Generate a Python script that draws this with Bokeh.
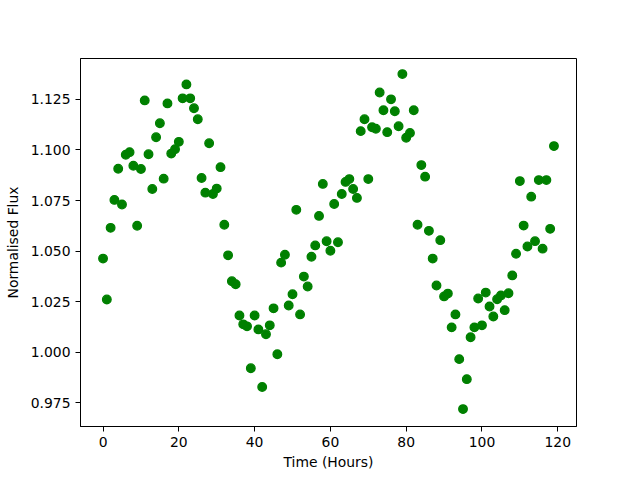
from bokeh.plotting import figure
from bokeh.models import Range1d, FixedTicker, NumeralTickFormatter, ColumnDataSource
from bokeh.embed import file_html
from bokeh.resources import INLINE

time_hours = list(range(120))
flux = [
    1.0463, 1.0261, 1.0615, 1.0753, 1.0907, 1.0730, 1.0976, 1.0989, 1.0922, 1.0625,
    1.0906, 1.1245, 1.0979, 1.0807, 1.1063, 1.1132, 1.0858, 1.1230, 1.0982, 1.1004,
    1.1040, 1.1255, 1.1324, 1.1255, 1.1206, 1.1152, 1.0861, 1.0789, 1.1033, 1.0782,
    1.0809, 1.0915, 1.0630, 1.0479, 1.0351, 1.0336, 1.0182, 1.0138, 1.0128, 0.9921,
    1.0182, 1.0113, 0.9828, 1.0089, 1.0133, 1.0217, 0.9990, 1.0443, 1.0482, 1.0231,
    1.0287, 1.0704, 1.0187, 1.0374, 1.0325, 1.0472, 1.0528, 1.0674, 1.0832, 1.0549,
    1.0502, 1.0733, 1.0544, 1.0782, 1.0842, 1.0856, 1.0807, 1.0763, 1.1093, 1.1152,
    1.0856, 1.1112, 1.1105, 1.1284, 1.1196, 1.1088, 1.1250, 1.1191, 1.1117, 1.1375,
    1.1060, 1.1084, 1.1196, 1.0630, 1.0925, 1.0868, 1.0600, 1.0463, 1.0330, 1.0554,
    1.0276, 1.0290, 1.0123, 1.0187, 0.9966, 0.9719, 0.9867, 1.0074, 1.0123, 1.0266,
    1.0133, 1.0295, 1.0226, 1.0177, 1.0262, 1.0281, 1.0208, 1.0292, 1.0380, 1.0487,
    1.0846, 1.0626, 1.0523, 1.0769, 1.0549, 1.0851, 1.0512, 1.0851, 1.0610, 1.1019,
]
x_ticks = [0, 20, 40, 60, 80, 100, 120]
y_ticks = [0.975, 1.000, 1.025, 1.050, 1.075, 1.100, 1.125]

FONT = "DejaVu Sans"
FS = "13.9px"

p = figure(
    output_backend="svg", toolbar_location=None,
    frame_width=496, frame_height=368,
    min_border_left=80, min_border_right=56, min_border_top=58, min_border_bottom=46,
    x_range=Range1d(-5.95, 124.95), y_range=Range1d(0.9633, 1.1452),
)
p.background_fill_color = "white"
p.border_fill_color = "white"
p.outline_line_color = "black"
p.outline_line_width = 1
p.outline_line_alpha = 1
p.grid.visible = False

src = ColumnDataSource(dict(x=time_hours, y=flux))
p.scatter("x", "y", source=src, size=8.6, fill_color="green", line_color="green", line_width=1.3)

for ax in (p.xaxis[0], p.yaxis[0]):
    ax.major_tick_out = 5
    ax.major_tick_in = 0
    ax.minor_tick_out = 0
    ax.minor_tick_in = 0
    ax.axis_line_color = "black"
    ax.major_tick_line_color = "black"
    ax.major_label_text_font = FONT
    ax.major_label_text_font_size = FS
    ax.major_label_text_color = "black"
    ax.axis_label_text_font = FONT
    ax.axis_label_text_font_size = FS
    ax.axis_label_text_font_style = "normal"
    ax.axis_label_text_color = "black"

p.xaxis.ticker = FixedTicker(ticks=x_ticks)
p.yaxis.ticker = FixedTicker(ticks=y_ticks)
p.yaxis.formatter = NumeralTickFormatter(format="0.000")
p.xaxis.axis_label = "Time (Hours)"
p.yaxis.axis_label = "Normalised Flux"
p.xaxis.major_label_standoff = 5
p.yaxis.major_label_standoff = 5
p.xaxis.axis_label_standoff = 4
p.yaxis.axis_label_standoff = 7

open("out.html", "w").write(file_html(p, INLINE))
